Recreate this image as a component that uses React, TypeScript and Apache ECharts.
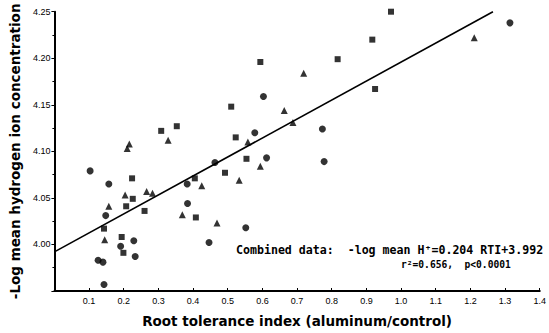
import React, { useEffect, useRef } from "react";
import * as echarts from "echarts";

// Root tolerance index (x) vs -log mean hydrogen ion concentration (y)
const circlePoints: [number, number][] = [
  [0.103, 4.079], [0.157, 4.065], [0.148, 4.031], [0.191, 3.998], [0.229, 4.004],
  [0.233, 3.987], [0.126, 3.983], [0.140, 3.981], [0.143, 3.957], [0.383, 4.065],
  [0.384, 4.044], [0.463, 4.088], [0.612, 4.093], [0.778, 4.089], [0.446, 4.002],
  [0.552, 4.018], [0.603, 4.159], [0.578, 4.120], [0.773, 4.124], [1.314, 4.238],
];
const squarePoints: [number, number][] = [
  [0.308, 4.122], [0.353, 4.127], [0.510, 4.148], [0.523, 4.115], [0.594, 4.196],
  [0.817, 4.199], [0.917, 4.220], [0.925, 4.167], [0.554, 4.092], [0.971, 4.250],
  [0.224, 4.071], [0.226, 4.049], [0.207, 4.041], [0.260, 4.036], [0.143, 4.017],
  [0.194, 4.008], [0.199, 3.991], [0.405, 4.071], [0.408, 4.029], [0.492, 4.077],
];
const trianglePoints: [number, number][] = [
  [0.157, 4.041], [0.145, 4.005], [0.204, 4.053], [0.266, 4.057], [0.283, 4.055],
  [0.369, 4.032], [0.425, 4.063], [0.469, 4.023], [0.533, 4.069], [0.594, 4.084],
  [0.663, 4.144], [0.688, 4.131], [0.558, 4.110], [0.216, 4.108], [0.210, 4.103],
  [0.328, 4.112], [0.719, 4.184], [1.211, 4.222],
];
const regressionLine: [number, number][] = [
  [0, 3.992], [1.265, 4.25],
];
const xTickLabels = ["", "0.1", "0.2", "0.3", "0.4", "0.5", "0.6", "0.7", "0.8", "0.9", "1.0", "1.1", "1.2", "1.3", "1.4"];
const yTickLabels = ["", "4.00", "4.05", "4.10", "4.15", "4.20", "4.25"];
const xTitle = "Root tolerance index (aluminum/control)";
const yTitle = "-Log mean hydrogen ion concentration";
const equationText = "Combined data:  -log mean H\u207A=0.204 RTI+3.992";
const statsText = "r\u00B2=0.656,  p<0.0001";

export default function App() {
  const ref = useRef<HTMLDivElement>(null);
  useEffect(() => {
    if (!ref.current) return;
    const chart = echarts.init(ref.current, null, { renderer: "svg" });
    const axisLabelFont = { color: "#000", fontSize: 9, fontFamily: "Liberation Sans, Arial, sans-serif" };
    chart.setOption({
      animation: false,
      backgroundColor: "#fff",
      grid: { left: 45, right: 4, top: 11.7, bottom: 38 },
      xAxis: {
        type: "value",
        min: 0,
        max: 1.4,
        interval: 0.1,
        name: xTitle,
        nameLocation: "middle",
        nameGap: 23,
        nameTextStyle: { color: "#000", fontSize: 13.5, fontWeight: "bold", fontFamily: "DejaVu Sans, sans-serif" },
        axisLine: { lineStyle: { color: "#000", width: 2 } },
        axisTick: { inside: true, length: 3, lineStyle: { color: "#000" } },
        axisLabel: {
          ...axisLabelFont,
          margin: 5,
          formatter: (v: number) => xTickLabels[Math.round(v * 10)] ?? "",
        },
        splitLine: { show: false },
      },
      yAxis: {
        type: "value",
        min: 3.95,
        max: 4.25,
        interval: 0.05,
        name: yTitle,
        nameLocation: "middle",
        nameGap: 30,
        nameTextStyle: { color: "#000", fontSize: 13.5, fontWeight: "bold", fontFamily: "DejaVu Sans, sans-serif" },
        axisLine: { lineStyle: { color: "#000", width: 2 } },
        axisTick: { length: 3, lineStyle: { color: "#000" } },
        minorTick: { show: true, splitNumber: 2, length: 2, lineStyle: { color: "#000" } },
        axisLabel: {
          ...axisLabelFont,
          margin: 4,
          formatter: (v: number) => yTickLabels[Math.round((v - 3.95) / 0.05)] ?? "",
        },
        splitLine: { show: false },
      },
      graphic: [
        {
          type: "text",
          left: 236,
          top: 244,
          style: {
            text: equationText,
            fill: "#000",
            font: "bold 11.6px 'DejaVu Sans Mono', monospace",
          },
        },
        {
          type: "text",
          left: 401,
          top: 259,
          style: {
            text: statsText,
            fill: "#000",
            font: "bold 9.6px 'DejaVu Sans Mono', monospace",
          },
        },
      ],
      series: [
        {
          type: "line",
          data: regressionLine,
          symbol: "none",
          lineStyle: { color: "#000", width: 1.6 },
          z: 1,
        },
        {
          type: "scatter",
          data: circlePoints,
          symbol: "circle",
          symbolSize: 7,
          itemStyle: { color: "#000" },
        },
        {
          type: "scatter",
          data: squarePoints,
          symbol: "rect",
          symbolSize: 6,
          itemStyle: { color: "#000" },
        },
        {
          type: "scatter",
          data: trianglePoints,
          symbol: "triangle",
          symbolSize: 7,
          itemStyle: { color: "#000" },
        },
      ],
    });
    return () => chart.dispose();
  }, []);
  return (
    <div
      ref={ref}
      style={{ position: "fixed", left: 0, top: 0, width: 549, height: 333, background: "#fff" }}
    />
  );
}
